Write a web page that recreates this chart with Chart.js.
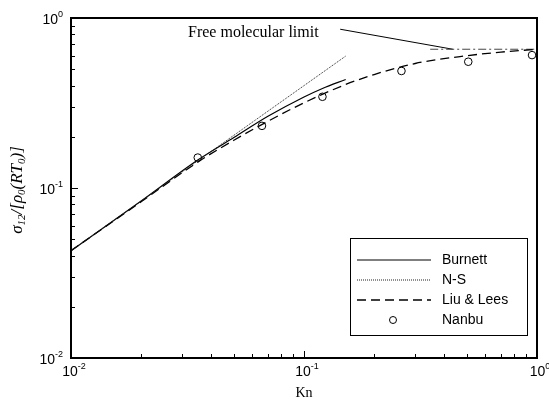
<!DOCTYPE html>
<html>
<head>
<meta charset="utf-8">
<script src="https://cdn.jsdelivr.net/npm/chart.js@4.4.0/dist/chart.umd.min.js"></script>
<style>html,body{margin:0;padding:0;background:#fff}</style>
</head>
<body>
<canvas id="myChart" width="549" height="406"></canvas>
<script>
// decade ticks and their exponent labels
const decades = [0.01, 0.1, 1];
const exponents = ["-2", "-1", "0"];

const nsKn = [0.01, 0.151];
const nsSigma = [0.0428, 0.597];

const burnettKn = [0.01, 0.02, 0.035, 0.05, 0.07, 0.1, 0.12, 0.151];
const burnettSigma = [0.0428, 0.0838, 0.146, 0.198, 0.264, 0.343, 0.385, 0.435];

const liuKn = [0.01, 0.02, 0.035, 0.05, 0.07, 0.1, 0.15, 0.2, 0.3, 0.5, 0.7, 1];
const liuSigma = [0.0428, 0.083, 0.142, 0.191, 0.247, 0.317, 0.405, 0.465, 0.54, 0.6, 0.63, 0.655];

const nanbuKn = [0.035, 0.066, 0.12, 0.262, 0.507, 0.952];
const nanbuSigma = [0.151, 0.232, 0.344, 0.488, 0.553, 0.605];

const fmlKn = [0.348, 1];
const fmlSigma = [0.655, 0.655];
const leaderKn = [0.143, 0.435];
const leaderSigma = [0.859, 0.655];

const pts = (xs, ys) => xs.map((x, i) => ({x: x, y: ys[i]}));

const legendItems = [
  {label: "Burnett", dash: [], width: 1.2, color: "#000"},
  {label: "N-S", dash: [1, 1], width: 1, color: "#222"},
  {label: "Liu & Lees", dash: [9, 5], width: 1.3, color: "#000"},
  {label: "Nanbu", point: true}
];

function richText(ctx, parts, x, y, align) {
  let w = 0;
  parts.forEach(p => { ctx.font = p.font; w += ctx.measureText(p.t).width; });
  let cx = align === "center" ? x - w / 2 : align === "right" ? x - w : x;
  ctx.textAlign = "left";
  ctx.textBaseline = "alphabetic";
  parts.forEach(p => {
    ctx.font = p.font;
    ctx.fillText(p.t, cx, y + (p.dy || 0));
    cx += ctx.measureText(p.t).width;
  });
}

const decor = {
  id: "decor",
  afterDraw(chart) {
    const ctx = chart.ctx, a = chart.chartArea;
    const xs = chart.scales.x, ys = chart.scales.y;
    ctx.save();
    ctx.strokeStyle = "#000";
    ctx.fillStyle = "#000";
    ctx.lineWidth = 2;
    ctx.strokeRect(a.left, a.top, a.right - a.left, a.bottom - a.top);

    // inward ticks on bottom and left
    ctx.lineWidth = 1;
    ctx.beginPath();
    decades.slice(0, 2).forEach(d => {
      for (let m = 1; m <= 10; m++) {
        const v = d * m;
        const len = (m === 1 || m === 10) ? 7 : 4;
        const px = Math.round(xs.getPixelForValue(v)) + 0.5;
        ctx.moveTo(px, a.bottom); ctx.lineTo(px, a.bottom - len);
        const py = Math.round(ys.getPixelForValue(v)) + 0.5;
        ctx.moveTo(a.left, py); ctx.lineTo(a.left + len, py);
      }
    });
    ctx.stroke();

    // tick labels 10^n
    decades.forEach((d, i) => {
      const base = {t: "10", font: "14px 'Liberation Sans'"};
      const sup = {t: exponents[i], font: "9px 'Liberation Sans'", dy: -7};
      richText(ctx, [base, sup], xs.getPixelForValue(d) + 3, a.bottom + 18, "center");
      richText(ctx, [base, sup], a.left - 8, ys.getPixelForValue(d) + 6, "right");
    });

    // axis titles
    ctx.font = "14px 'Liberation Serif'";
    ctx.textAlign = "center";
    ctx.fillText("Kn", (a.left + a.right) / 2, 397);

    ctx.save();
    ctx.translate(22, 190);
    ctx.rotate(-Math.PI / 2);
    const it = "italic 17px 'Liberation Serif'", sub = "italic 11px 'Liberation Serif'";
    richText(ctx, [
      {t: "σ", font: it}, {t: "12", font: sub, dy: 3}, {t: "/[", font: it},
      {t: "ρ", font: it}, {t: "0", font: sub, dy: 3}, {t: "(RT", font: it},
      {t: "0", font: sub, dy: 3}, {t: ")]", font: it}
    ], 0, 0, "center");
    ctx.restore();

    // annotation
    ctx.font = "16px 'Liberation Serif'";
    ctx.textAlign = "left";
    ctx.fillText("Free molecular limit", 188, 37);

    // legend box
    const lx = 350, ly = 238, lw = 177, lh = 97;
    ctx.fillStyle = "#fff";
    ctx.fillRect(lx, ly, lw, lh);
    ctx.strokeStyle = "#000";
    ctx.lineWidth = 1;
    ctx.strokeRect(lx + 0.5, ly + 0.5, lw, lh);
    ctx.fillStyle = "#000";
    ctx.font = "14px 'Liberation Sans'";
    ctx.textBaseline = "middle";
    legendItems.forEach((it2, i) => {
      const y = 260 + i * 20;
      if (it2.point) {
        ctx.beginPath();
        ctx.lineWidth = 1;
        ctx.arc(393, y, 3.5, 0, Math.PI * 2);
        ctx.stroke();
      } else {
        ctx.beginPath();
        ctx.setLineDash(it2.dash);
        ctx.lineWidth = it2.width;
        ctx.strokeStyle = it2.color;
        ctx.moveTo(357, y); ctx.lineTo(431, y);
        ctx.stroke();
        ctx.setLineDash([]);
        ctx.strokeStyle = "#000";
      }
      ctx.fillText(it2.label, 442, y);
    });
    ctx.restore();
  }
};

const data = {
  datasets: [
    {label: "N-S", data: pts(nsKn, nsSigma), showLine: true, borderColor: "#222",
     borderWidth: 1, borderDash: [1, 1], pointRadius: 0},
    {label: "Burnett", data: pts(burnettKn, burnettSigma), showLine: true, borderColor: "#000",
     borderWidth: 1.2, pointRadius: 0, cubicInterpolationMode: "monotone"},
    {label: "Liu & Lees", data: pts(liuKn, liuSigma), showLine: true, borderColor: "#000",
     borderWidth: 1.3, borderDash: [9, 5], pointRadius: 0, cubicInterpolationMode: "monotone"},
    {label: "Free molecular", data: pts(fmlKn, fmlSigma), showLine: true, borderColor: "#444",
     borderWidth: 1, borderDash: [8, 3, 2, 3], pointRadius: 0},
    {label: "leader", data: pts(leaderKn, leaderSigma), showLine: true, borderColor: "#000",
     borderWidth: 1, pointRadius: 0},
    {label: "Nanbu", data: pts(nanbuKn, nanbuSigma), showLine: false, borderColor: "#000",
     backgroundColor: "rgba(0,0,0,0)", borderWidth: 1, pointRadius: 3.8}
  ]
};

const config = {
  type: "scatter",
  data,
  options: {
    responsive: false,
    animation: false,
    layout: {padding: {left: 71, top: 18, right: 12, bottom: 48}},
    plugins: {legend: {display: false}, tooltip: {enabled: false}},
    scales: {
      x: {type: "logarithmic", min: 0.01, max: 1, display: false},
      y: {type: "logarithmic", min: 0.01, max: 1, display: false}
    }
  },
  plugins: [decor]
};
const myChart = new Chart(document.getElementById("myChart"), config);
</script>
</body>
</html>
